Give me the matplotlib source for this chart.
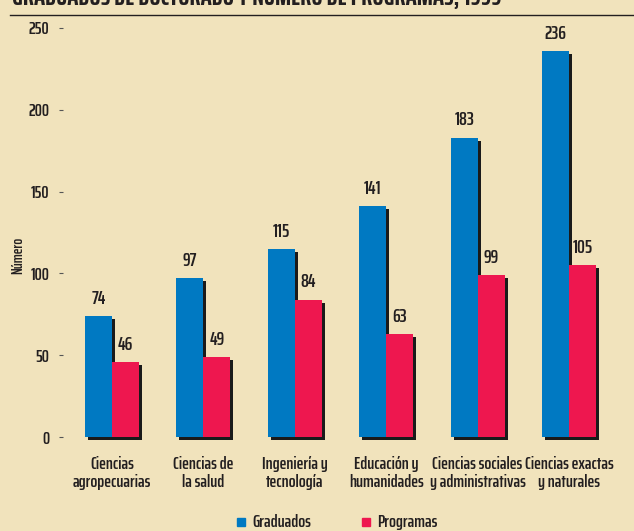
import matplotlib.pyplot as plt
import numpy as np

categorias = ["Ciencias\nagropecuarias", "Ciencias de\nla salud", "Ingeniería y\ntecnología",
              "Educación y\nhumanidades", "Ciencias sociales\ny administrativas", "Ciencias exactas\ny naturales"]
graduados = [74, 97, 115, 141, 183, 236]
programas = [46, 49, 84, 63, 99, 105]
ticks_y = [0, 50, 100, 150, 200, 250]

fondo = '#F1E3BC'
azul = '#0079C2'
rojo = '#EE174F'
tinta = '#231f20'
plt.rcParams['font.family'] = ['Saira ExtraCondensed', 'DejaVu Sans']
plt.rcParams['font.weight'] = 600

fig = plt.figure(figsize=(6.34, 5.31), dpi=100, facecolor=fondo)
ax = fig.add_axes([63/634, 94/531, (620-63)/634, (437-28)/531])
ax.set_facecolor(fondo)

x = np.arange(len(categorias))
ancho = 0.295
dx = 3/91.4
dy = 3/1.636

# sombras
for xs, vals in [(x - ancho/2, graduados), (x + ancho/2, programas)]:
    ax.bar(xs + dx, vals, ancho, bottom=-dy, color='#1a1a1a', clip_on=False, zorder=1)
ax.bar(x - ancho/2, graduados, ancho, color=azul, zorder=2, clip_on=False)
ax.bar(x + ancho/2, programas, ancho, color=rojo, zorder=2, clip_on=False)

for i in range(len(categorias)):
    ax.text(x[i] - ancho/2, graduados[i] + 5, str(graduados[i]), ha='center', va='bottom',
            fontsize=14, color=tinta)
    ax.text(x[i] + ancho/2, programas[i] + 5, str(programas[i]), ha='center', va='bottom',
            fontsize=14, color=tinta)

ax.set_xlim((63-112)/91.4, (620-112)/91.4)
ax.set_ylim(0, 250)
ax.set_yticks(ticks_y)
ax.set_yticklabels([str(t) for t in ticks_y], fontsize=13, color=tinta)
ax.tick_params(axis='y', length=3, width=0.8, pad=7, color='#555555')
ax.set_xticks(x)
ax.set_xticklabels(categorias, fontsize=13, color=tinta, linespacing=1.1)
ax.tick_params(axis='x', length=0, pad=14)
for s in ax.spines.values():
    s.set_visible(False)

fig.text(18/634, 1 - 255/531, 'Número', rotation=90, ha='center', va='center',
         fontsize=11, color=tinta)

# titulo cortado arriba
fig.text(12/634, 1 - 5/531, 'GRADUADOS DE DOCTORADO Y NÚMERO DE PROGRAMAS, 1999',
         ha='left', va='baseline', fontsize=19, fontweight='bold', color=tinta)
fig.add_artist(plt.Line2D([10/634, 1], [1 - 15/531, 1 - 15/531], color=tinta, lw=1))

# leyenda
for px, col, txt in [(237, azul, 'Graduados'), (362, rojo, 'Programas')]:
    fig.patches.append(plt.Rectangle((px/634, 1 - 526/531), 8/634, 8/531, color=col,
                                     transform=fig.transFigure, figure=fig))
    fig.text((px + 15)/634, 1 - 522/531, txt, ha='left', va='center', fontsize=13, color=tinta)

fig.savefig('out.png', dpi=100, facecolor=fondo)
